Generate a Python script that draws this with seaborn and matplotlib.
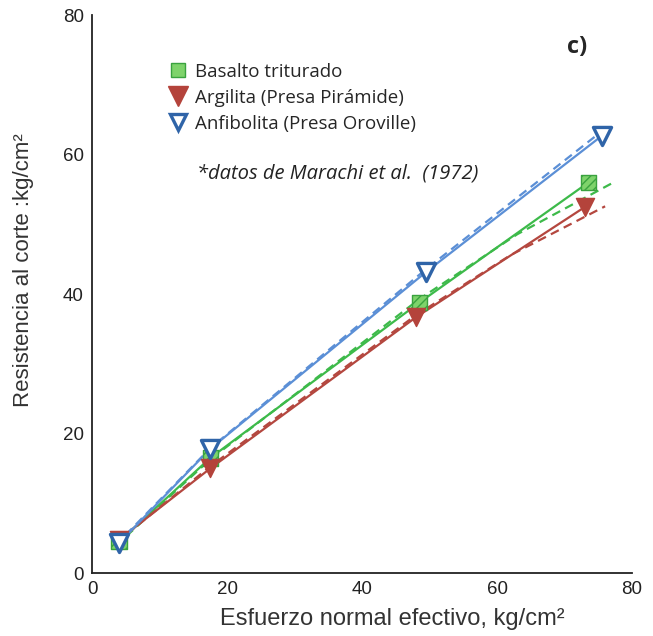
import numpy as np
import pandas as pd
import matplotlib
matplotlib.use("Agg")
import matplotlib.pyplot as plt
from matplotlib.lines import Line2D
import seaborn as sns

# Data
series_names = ["Basalto triturado", "Argilita (Presa Pirámide)", "Anfibolita (Presa Oroville)"]
x_basalto = [4.0, 17.5, 48.5, 73.5]
y_basalto = [4.5, 16.5, 38.8, 56.0]
x_argilita = [4.0, 17.5, 48.0, 73.0]
y_argilita = [4.8, 15.0, 36.7, 52.5]
x_anfibolita = [4.0, 17.5, 49.5, 75.5]
y_anfibolita = [4.3, 17.8, 43.2, 62.7]

# dashed (fitted) curves
xfit_basalto = [3.5, 17.5, 48.5, 63.0, 77.0]
yfit_basalto = [3.9, 16.3, 39.3, 48.6, 55.9]
xfit_argilita = [3.5, 17.5, 48.0, 62.0, 76.0]
yfit_argilita = [4.3, 15.3, 37.0, 45.6, 52.6]
xfit_anfibolita = [3.5, 17.5, 49.5, 74.5]
yfit_anfibolita = [4.0, 17.9, 43.6, 62.6]

x_ticks = [0, 20, 40, 60, 80]
y_ticks = [0, 20, 40, 60, 80]

sns.set_style("white")
plt.rcParams["font.family"] = ["Liberation Sans", "DejaVu Sans"]

fig = plt.figure(figsize=(6.53, 6.36), dpi=100)
ax = fig.add_axes([0.141, 0.099, 0.827, 0.877])

line_cols = ["#3dba4a", "#b4473f", "#5b8fd6"]
mk_face = ["#7ed36b", "#b4433b", "white"]
mk_edge = ["#3aa23f", "#b4433b", "#2f64a8"]
markers = ["s", "v", "v"]

data = [(x_basalto, y_basalto), (x_argilita, y_argilita), (x_anfibolita, y_anfibolita)]
fits = [(xfit_basalto, yfit_basalto), (xfit_argilita, yfit_argilita),
        (xfit_anfibolita, yfit_anfibolita)]
handles = []
for i, ((xs, ys), (fxs, fys)) in enumerate(zip(data, fits)):
    df = pd.DataFrame({"x": xs, "y": ys})
    fdf = pd.DataFrame({"x": fxs, "y": fys})
    sns.lineplot(data=fdf, x="x", y="y", ax=ax, color=line_cols[i], lw=1.6,
                 linestyle=(0, (4, 2.5)), legend=False, sort=False)
    sns.lineplot(data=df, x="x", y="y", ax=ax, color=line_cols[i], lw=1.6,
                 legend=False, sort=False)
    sns.scatterplot(data=df, x="x", y="y", ax=ax, marker=markers[i], s=170 if i else 120,
                    color=mk_face[i], edgecolor=mk_edge[i], linewidth=2.4 if i == 2 else 1.0,
                    hatch="////" if i == 0 else None, zorder=5, legend=False)
    handles.append(Line2D([], [], marker=markers[i], linestyle="none",
                          markersize=[10, 14, 12][i], markerfacecolor=mk_face[i],
                          markeredgecolor=mk_edge[i], markeredgewidth=2.4 if i == 2 else 1.0))

ax.set_xlim(0, 80)
ax.set_ylim(0, 80)
ax.set_xticks(x_ticks)
ax.set_yticks(y_ticks)
ax.tick_params(direction="in", length=9, width=1.3, labelsize=13.5, pad=6, colors="#222222")
for s in ["top", "right"]:
    ax.spines[s].set_visible(False)
for s in ["left", "bottom"]:
    ax.spines[s].set_color("#222222")
    ax.spines[s].set_linewidth(1.3)

ax.set_xlabel("Esfuerzo normal efectivo, kg/cm²", fontsize=17, color="#333333")
ax.set_ylabel("Resistencia al corte :kg/cm²", fontsize=16, color="#333333")
ax.xaxis.set_label_coords(0.556, -0.062)
ax.yaxis.set_label_coords(-0.108, 0.543)

leg = ax.legend(handles, series_names, loc="upper left", bbox_to_anchor=(0.11, 0.945),
                frameon=False, handlelength=1.0, handletextpad=0.4, labelspacing=0.42,
                borderpad=0.4, prop={"family": ["Open Sans", "DejaVu Sans"], "size": 13.5})

ax.text(15.5, 57.3, "*datos de Marachi et al.  (1972)", fontsize=14.5, style="italic",
        family=["Open Sans", "DejaVu Sans"], color="#222222", va="center")
ax.text(71.8, 75.5, "c)", fontsize=17, fontweight="bold", family=["Open Sans", "DejaVu Sans"],
        va="center", ha="center")

fig.savefig("out.png", dpi=100)
